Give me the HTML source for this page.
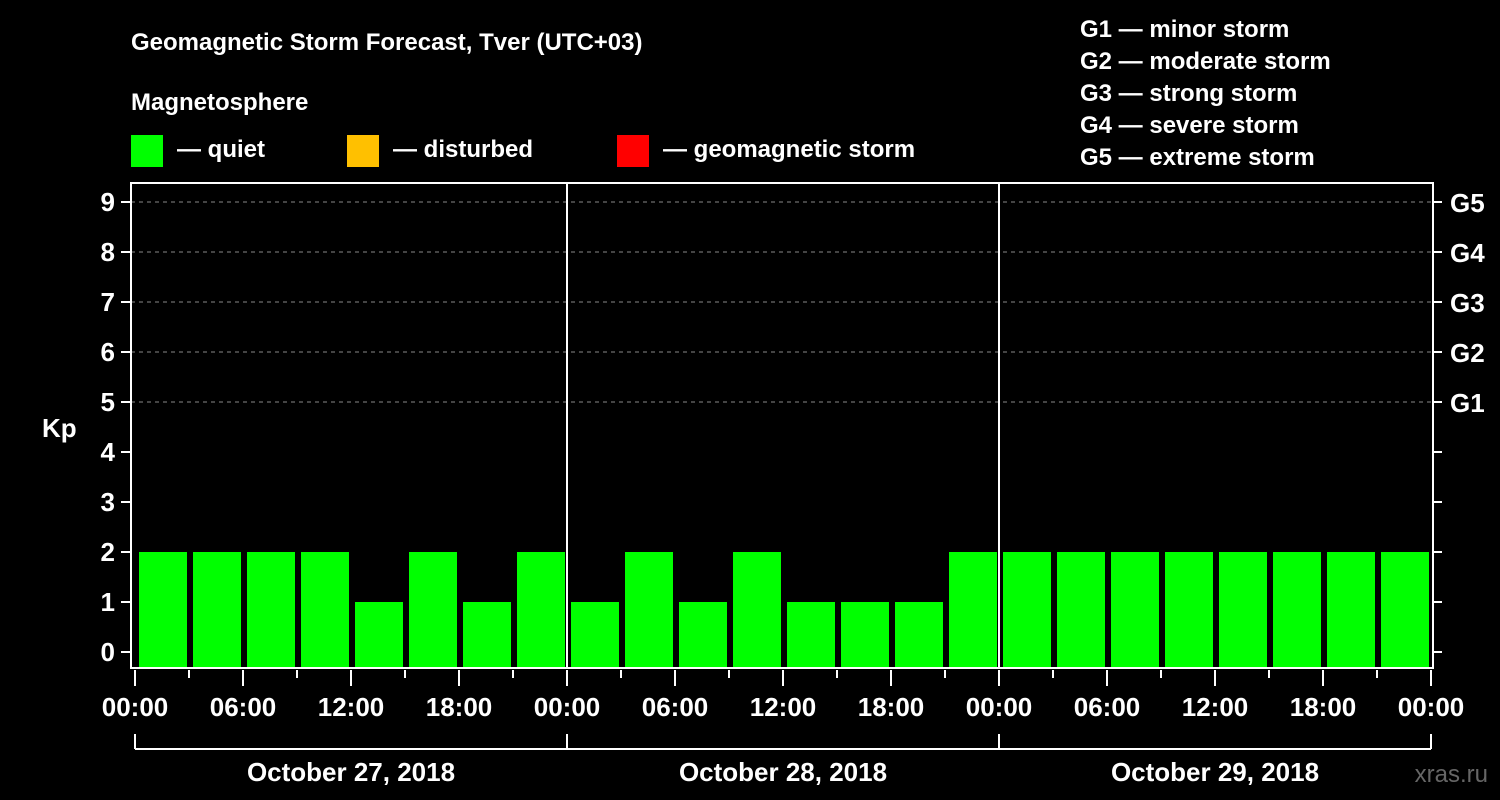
<!DOCTYPE html>
<html><head><meta charset="utf-8"><style>
body{margin:0;background:#000;}
svg{display:block;font-family:"Liberation Sans",Arial,sans-serif;font-weight:bold;}
</style></head><body>
<svg id="c" width="1500" height="800" viewBox="0 0 1500 800">
<rect width="1500" height="800" fill="#000"/>
<text x="131" y="50" fill="#fff" font-size="24">Geomagnetic Storm Forecast, Tver (UTC+03)</text>
<text x="131" y="110" fill="#fff" font-size="24">Magnetosphere</text>
<g><rect x="131" y="135" width="32" height="32" fill="#00ff00"/><text x="177" y="157" fill="#fff" font-size="24">— quiet</text></g>
<g><rect x="347" y="135" width="32" height="32" fill="#ffc000"/><text x="393" y="157" fill="#fff" font-size="24">— disturbed</text></g>
<g><rect x="617" y="135" width="32" height="32" fill="#ff0000"/><text x="663" y="157" fill="#fff" font-size="24">— geomagnetic storm</text></g>
<g fill="#fff" font-size="24">
<text x="1080" y="37">G1 — minor storm</text>
<text x="1080" y="69">G2 — moderate storm</text>
<text x="1080" y="101">G3 — strong storm</text>
<text x="1080" y="133">G4 — severe storm</text>
<text x="1080" y="165">G5 — extreme storm</text>
</g>
<text x="42" y="437" fill="#fff" font-size="26">Kp</text>
<text x="1488" y="782" fill="#666" font-size="24" text-anchor="end" font-weight="normal">xras.ru</text>
<g id="plot"></g>
</svg>
<script>
const kpValues = [2,2,2,2,1,2,1,2, 1,2,1,2,1,1,1,2, 2,2,2,2,2,2,2,2];
const dayLabels = ["October 27, 2018","October 28, 2018","October 29, 2018"];
const yTicks = [0,1,2,3,4,5,6,7,8,9];
const gLabels = ["G1","G2","G3","G4","G5"];
const hourLabels = ["00:00","06:00","12:00","18:00"];

const NS="http://www.w3.org/2000/svg";
const g=document.getElementById('plot');
const x0=135, slot=54, L=131, R=1433, T=183, B=668;
const y=v=>652-50*v;
const xt=i=>x0+slot*i;
function el(t,a,p){const e=document.createElementNS(NS,t);for(const k in a)e.setAttribute(k,a[k]);(p||g).appendChild(e);return e;}

yTicks.forEach(v=>{
  if(v>=5){const l=el('line',{x1:L,x2:R,y1:y(v),y2:y(v),stroke:'#888','stroke-dasharray':'4,4','stroke-width':1});
    
    }
  el('line',{x1:121,x2:L,y1:y(v),y2:y(v),stroke:'#fff','stroke-width':2});
  el('line',{x1:R,x2:1442,y1:y(v),y2:y(v),stroke:'#fff','stroke-width':2});
  const t=el('text',{x:115,y:y(v)+9,fill:'#fff','font-size':26,'text-anchor':'end'});t.textContent=v;
  
  
});
gLabels.forEach((s,i)=>{const t=el('text',{x:1450,y:y(5+i)+10,fill:'#fff','font-size':26});t.textContent=s;
  
  });

kpValues.forEach((v,i)=>{
  const r=el('rect',{x:xt(i)+4,y:y(v),width:48,height:B-y(v),fill:v>=5?'#ff0000':(v>=4?'#ffc000':'#00ff00')});
  
  
});
el('rect',{x:L,y:T,width:R-L,height:B-T,fill:'none',stroke:'#fff','stroke-width':2});
for(let d=1;d<dayLabels.length;d++) el('line',{x1:xt(8*d),x2:xt(8*d),y1:T,y2:B,stroke:'#fff','stroke-width':2});

for(let i=0;i<=kpValues.length;i++){
  const big=i%2===0;
  el('line',{x1:xt(i),x2:xt(i),y1:670,y2:big?686:678,stroke:'#fff','stroke-width':2});
  if(big){const t=el('text',{x:xt(i),y:716,fill:'#fff','font-size':26,'text-anchor':'middle'});t.textContent=hourLabels[(i/2)%4];
    
    }
}
el('line',{x1:xt(0),x2:xt(kpValues.length),y1:749,y2:749,stroke:'#fff','stroke-width':2});
dayLabels.forEach((s,d)=>{
  el('line',{x1:xt(8*d),x2:xt(8*d),y1:734,y2:749,stroke:'#fff','stroke-width':2});
  const t=el('text',{x:(xt(8*d)+xt(8*d+8))/2,y:781,fill:'#fff','font-size':26,'text-anchor':'middle'});t.textContent=s;
  
  
});
el('line',{x1:xt(24),x2:xt(24),y1:734,y2:749,stroke:'#fff','stroke-width':2});
</script>
</body></html>
